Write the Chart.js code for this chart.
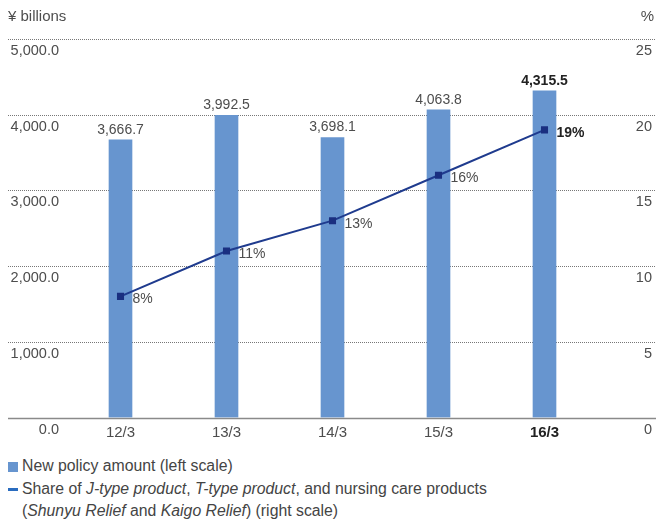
<!DOCTYPE html>
<html>
<head>
<meta charset="utf-8">
<script src="https://cdn.jsdelivr.net/npm/chart.js@4"></script>
<style>
    body { margin: 0; background: #fff; font-family: "Liberation Sans", Arial, sans-serif; }
    #wrap { position: relative; width: 656px; height: 450px; }
    .legend { position: absolute; left: 8px; top: 455px; font-size: 15.8px; color: #444; line-height: 22.5px; white-space: nowrap; }
    .sw { display: inline-block; width: 10px; height: 10px; background: #6795cf; margin-right: 4px; vertical-align: -1px; }
    .dash { display: inline-block; width: 10px; height: 3px; background: #2a6cbf; margin-right: 4px; vertical-align: 3px; }
</style>
</head>
<body>
<div id="wrap"><canvas id="policyChart" width="656" height="450"></canvas></div>
<div class="legend">
    <div><span class="sw"></span>New policy amount (left scale)</div>
    <div><span class="dash"></span>Share of <i>J-type product</i>, <i>T-type product</i>, and nursing care products</div>
    <div style="padding-left:14px">(<i>Shunyu Relief</i> and <i>Kaigo Relief</i>) (right scale)</div>
</div>
<script>
const years = ['12/3', '13/3', '14/3', '15/3', '16/3'];
const policyAmount = [3666.7, 3992.5, 3698.1, 4063.8, 4315.5];
const shareRate = [8, 11, 13, 16, 19];
const leftTicks = [0, 1000, 2000, 3000, 4000, 5000];
const rightTicks = [0, 5, 10, 15, 20, 25];

const textColor = '#4d4d4d';
const fontName = '"Liberation Sans", Arial, sans-serif';

// draws the grid, axis texts and value labels
const decorate = {
    id: 'decorate',
    beforeDatasetsDraw(chart) {
        const c = chart.ctx;
        const yL = chart.scales.yL;
        c.save();
        leftTicks.forEach(function (v) {
            const y = Math.round(yL.getPixelForValue(v)) + 0.5;
            c.beginPath();
            if (v === 0) {
                c.setLineDash([]);
                c.strokeStyle = '#8a8a8a';
                c.lineWidth = 1.5;
            } else {
                c.setLineDash([1, 1]);
                c.strokeStyle = '#777';
                c.lineWidth = 1;
            }
            c.moveTo(8, y);
            c.lineTo(656, y);
            c.stroke();
        });
        c.restore();
    },
    afterDatasetsDraw(chart) {
        const c = chart.ctx;
        const yL = chart.scales.yL;
        const yR = chart.scales.yR;
        const x = chart.scales.x;
        const last = years.length - 1;
        c.save();
        c.font = '14.5px ' + fontName;
        c.fillStyle = textColor;
        c.textBaseline = 'middle';

        c.textAlign = 'right';
        leftTicks.forEach(function (v) {
            const txt = v.toLocaleString('en-US', { minimumFractionDigits: 1 });
            c.fillText(txt, 59, yL.getPixelForValue(v) + 12);
        });
        rightTicks.forEach(function (v) {
            c.fillText(String(v), 652, yR.getPixelForValue(v) + 12);
        });

        c.font = '15px ' + fontName;
        c.textAlign = 'left';
        c.fillText('¥ billions', 8, 17);
        c.textAlign = 'right';
        c.fillText('%', 654, 17);

        c.textAlign = 'center';
        years.forEach(function (lab, i) {
            c.font = (i === last ? 'bold ' : '') + '15px ' + fontName;
            c.fillStyle = i === last ? '#222' : textColor;
            c.fillText(lab, x.getPixelForValue(i), 433);
        });

        const bars = chart.getDatasetMeta(1).data;
        bars.forEach(function (b, i) {
            c.font = (i === last ? 'bold ' : '') + '14px ' + fontName;
            c.fillStyle = i === last ? '#222' : textColor;
            c.textBaseline = 'bottom';
            c.textAlign = 'center';
            const txt = policyAmount[i].toLocaleString('en-US', { minimumFractionDigits: 1 });
            c.fillText(txt, b.x, b.y - 3);
        });

        const pts = chart.getDatasetMeta(0).data;
        pts.forEach(function (p, i) {
            c.font = (i === last ? 'bold ' : '') + '14px ' + fontName;
            c.fillStyle = i === last ? '#222' : textColor;
            c.textBaseline = 'middle';
            c.textAlign = 'left';
            c.fillText(shareRate[i] + '%', p.x + 12, p.y + 3);
        });
        c.restore();
    }
};

const ctx = document.getElementById('policyChart').getContext('2d');
const policyChart = new Chart(ctx, {
    data: {
        labels: years,
        datasets: [
            {
                type: 'line',
                label: 'Share',
                data: shareRate,
                yAxisID: 'yR',
                borderColor: '#1f3b8e',
                borderWidth: 2,
                pointStyle: 'rect',
                pointRadius: 5,
                pointBackgroundColor: '#1a2f80',
                pointBorderWidth: 0,
                tension: 0,
                order: 0
            },
            {
                type: 'bar',
                label: 'New policy amount',
                data: policyAmount,
                yAxisID: 'yL',
                backgroundColor: '#6795cf',
                barThickness: 23,
                order: 1
            }
        ]
    },
    options: {
        responsive: false,
        animation: false,
        layout: { padding: { left: 67.5, right: 58.5, top: 39, bottom: 32.5 } },
        scales: {
            x: { display: false, offset: true },
            yL: { display: false, position: 'left', min: 0, max: 5000 },
            yR: { display: false, position: 'right', min: 0, max: 25 }
        },
        plugins: {
            legend: { display: false },
            tooltip: { enabled: false }
        }
    },
    plugins: [decorate]
});
</script>
</body>
</html>
